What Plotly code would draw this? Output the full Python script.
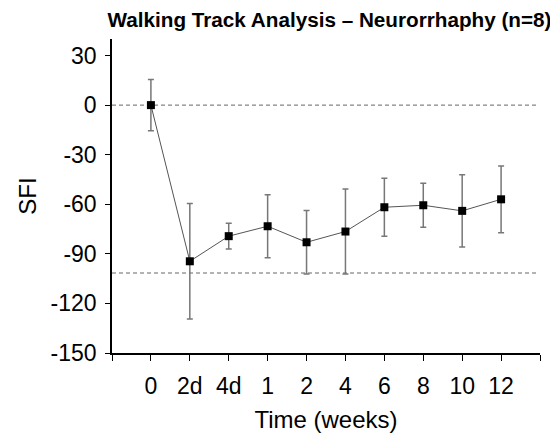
import plotly.graph_objects as go

categories = ["0", "2d", "4d", "1", "2", "4", "6", "8", "10", "12"]
sfi_mean = [0, -94.5, -79.3, -73.3, -83.0, -76.5, -61.8, -60.6, -64.0, -57.0]
sfi_err = [15.5, 35.0, 7.8, 19.0, 19.2, 25.7, 17.5, 13.3, 21.8, 20.2]
ref_lines = [0, -101.6]
y_ticks = [30, 0, -30, -60, -90, -120, -150]
y_tick_labels = ["30", "0", "-30", "-60", "-90", "-120", "-150"]

x_pos = [i + 1 for i in range(len(categories))]
tick_positions = list(range(0, len(categories) + 2))
tick_labels = [""] + categories + [""]

FONT = "Liberation Sans, Arial, sans-serif"

# The page body has an 8px default margin, so the figure is 8px smaller.
fig = go.Figure()
fig.add_trace(go.Scatter(
    x=x_pos, y=sfi_mean,
    mode="lines+markers",
    line=dict(color="#555555", width=1),
    marker=dict(symbol="square", size=8, color="black"),
    error_y=dict(type="data", array=sfi_err, visible=True,
                 color="#777777", thickness=1.5, width=3),
    showlegend=False,
))

for yv in ref_lines:
    fig.add_shape(type="line", xref="x", yref="y",
                  x0=0, x1=len(categories) + 0.9, y0=yv, y1=yv,
                  line=dict(color="#666666", width=1, dash="4px,3px"),
                  layer="below")

fig.update_layout(
    width=550, height=425,
    margin=dict(l=104, r=18, t=31, b=80, autoexpand=False),
    plot_bgcolor="white", paper_bgcolor="white",
    font=dict(family=FONT, color="black"),
    title=dict(text="<b>Walking Track Analysis – Neurorrhaphy (n=8)</b>",
               x=0.5845, xanchor="center", y=0.972, yanchor="middle",
               xref="container", yref="container",
               font=dict(size=20.7, family=FONT, color="black")),
)
fig.update_xaxes(
    range=[0, len(categories) + 1],
    tickmode="array", tickvals=tick_positions, ticktext=tick_labels,
    showline=True, linecolor="black", linewidth=1.5,
    ticks="outside", ticklen=6, tickwidth=1.2, tickcolor="black",
    showgrid=False, zeroline=False, automargin=False,
    tickfont=dict(size=23), ticklabelstandoff=6,
    title=dict(text="Time (weeks)", font=dict(size=24), standoff=13),
)
fig.update_yaxes(
    range=[-150, 40],
    tickmode="array", tickvals=y_ticks, ticktext=y_tick_labels,
    showline=True, linecolor="black", linewidth=1.5,
    ticks="outside", ticklen=5, tickwidth=1.2, tickcolor="black",
    showgrid=False, zeroline=False, automargin=False,
    tickfont=dict(size=23), ticklabelstandoff=4,
    title=dict(text="SFI", font=dict(size=24), standoff=7),
)

fig.write_html("out.html")
